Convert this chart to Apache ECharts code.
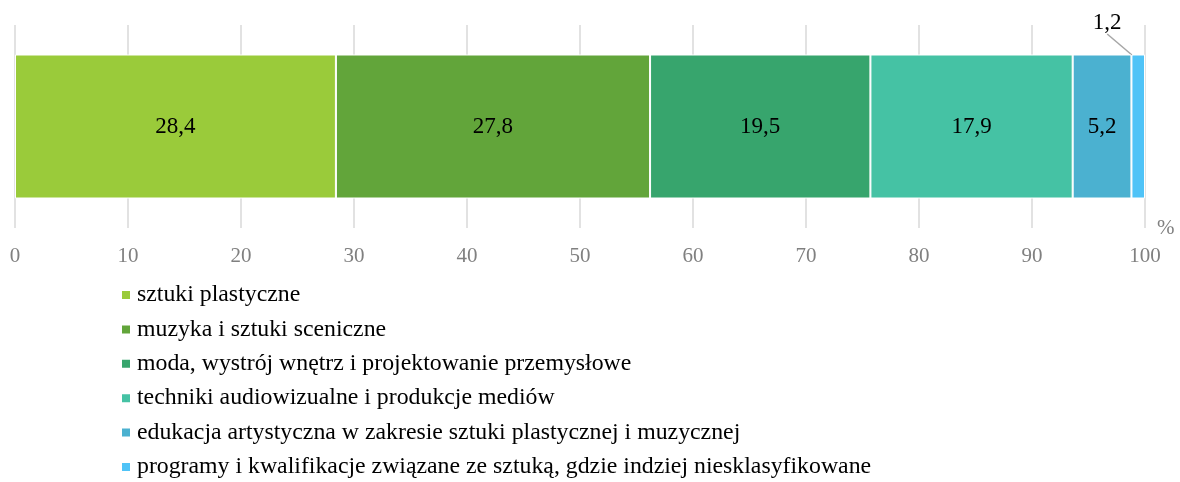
<!DOCTYPE html>
<html><head><meta charset="utf-8">
<script src="https://cdn.jsdelivr.net/npm/echarts@6/dist/echarts.min.js"></script>
<style>html,body{margin:0;padding:0;background:#fff}#c{width:1180px;height:482px}</style>
</head><body><div id="c"></div>
<script>
const categories = ['sztuki plastyczne','muzyka i sztuki sceniczne','moda, wystrój wnętrz i projektowanie przemysłowe','techniki audiowizualne i produkcje mediów','edukacja artystyczna w zakresie sztuki plastycznej i muzycznej','programy i kwalifikacje związane ze sztuką, gdzie indziej niesklasyfikowane'];
const values = [28.4, 27.8, 19.5, 17.9, 5.2, 1.2];
const colors = ['#9ACB3A','#62A53A','#37A56D','#45C2A4','#4BB1D0','#4FC3F7'];
const tickLabels = ['0','10','20','30','40','50','60','70','80','90','100'];
const font = '"Liberation Serif", "Times New Roman", serif';
const chart = echarts.init(document.getElementById('c'), null, {renderer:'canvas'});
const series = categories.map((name, i) => {
  const last = i === categories.length - 1;
  return {
    name, type: 'bar', stack: 'total', barWidth: 144,
    data: [values[i]],
    itemStyle: { color: colors[i], borderColor: '#fff', borderWidth: 1 },
    label: {
      show: true, position: 'inside',
      formatter: p => String(p.value).replace('.', ','),
      color: '#000', fontFamily: font, fontSize: 23
    },
    labelLayout: last ? { dx: -31, dy: -104 } : undefined,
    labelLine: last ? { show: true, lineStyle: { color: '#a6a6a6', width: 1.5 } } : undefined
  };
});
chart.setOption({
  animation: false,
  textStyle: { fontFamily: font },
  grid: { left: 15, right: 35, top: 25, bottom: 254, containLabel: false },
  xAxis: {
    type: 'value', min: 0, max: 100, interval: 10,
    axisLine: { show: false }, axisTick: { show: false },
    splitLine: { show: true, lineStyle: { color: '#d9d9d9', width: 1.5 } },
    axisLabel: { color: '#808080', fontFamily: font, fontSize: 21, margin: 18,
      formatter: (v) => tickLabels[Math.round(v / 10)] },
    name: '%', nameLocation: 'end', nameGap: 12,
    nameTextStyle: { color: '#808080', fontFamily: font, fontSize: 21, verticalAlign: 'middle' }
  },
  yAxis: { type: 'category', data: [''], show: false },
  legend: {
    orient: 'vertical', left: 120, top: 283, height: 199, padding: 0,
    itemWidth: 10, itemHeight: 10, itemGap: 10.4,
    icon: 'rect',
    textStyle: { color: '#000', fontFamily: font, fontSize: 23.8, lineHeight: 24, padding: [0,0,0,1] },
    data: categories
  },
  series
});
</script></body></html>
